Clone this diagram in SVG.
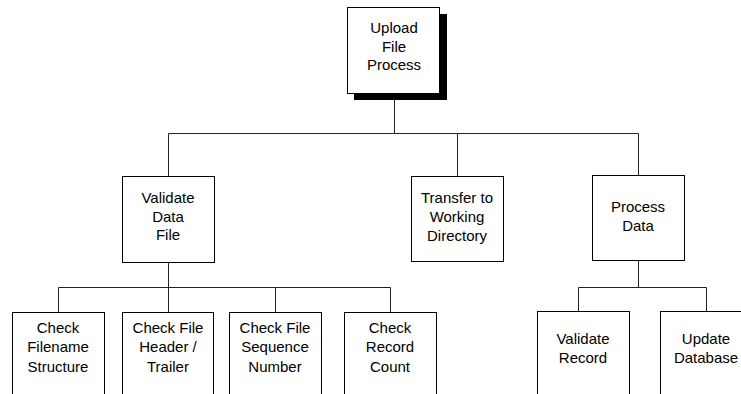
<svg xmlns="http://www.w3.org/2000/svg" width="741" height="394" viewBox="0 0 741 394">
<style>
.box{fill:#fff;stroke:#000;stroke-width:1}
.t{font-family:"Liberation Sans",Arial,sans-serif;font-size:15px;fill:#000;text-anchor:middle}
.c{fill:none;stroke:#222;stroke-width:1}
</style>
<rect width="741" height="394" fill="#fff"/>
<g id="connectors">
<path class="c" d="M394.5 100V133.5M168.5 133.5H638.5M168.5 133.5V176M457.5 133.5V176M638.5 133.5V176"/>
<path class="c" d="M168.5 262V287.5M58.5 287.5H390.5M58.5 287.5V312M168.5 287.5V312M275.5 287.5V312M390.5 287.5V312"/>
<path class="c" d="M638.5 261V287.5M578.5 287.5H706.5M578.5 287.5V311M706.5 287.5V311"/>
</g>
<g id="upload">
<rect x="354" y="14" width="93" height="86" fill="#000"/>
<rect class="box" x="347.5" y="7.5" width="92" height="86"/>
<text class="t" x="394" y="33">Upload</text>
<text class="t" x="394" y="52">File</text>
<text class="t" x="394" y="70">Process</text>
</g>
<g id="validate">
<rect class="box" x="122.5" y="176.5" width="92" height="86"/>
<text class="t" x="168" y="203">Validate</text>
<text class="t" x="168" y="222">Data</text>
<text class="t" x="168" y="240">File</text>
</g>
<g id="transfer">
<rect class="box" x="411.5" y="176.5" width="92" height="85"/>
<text class="t" x="457" y="203">Transfer to</text>
<text class="t" x="457" y="222">Working</text>
<text class="t" x="457" y="241">Directory</text>
</g>
<g id="process">
<rect class="box" x="592.5" y="175.5" width="92" height="85"/>
<text class="t" x="638" y="212">Process</text>
<text class="t" x="638" y="231">Data</text>
</g>
<g id="filename">
<rect class="box" x="12.5" y="312.5" width="92" height="100"/>
<text class="t" x="58" y="333">Check</text>
<text class="t" x="58" y="352">Filename</text>
<text class="t" x="58" y="372">Structure</text>
</g>
<g id="header">
<rect class="box" x="122.5" y="312.5" width="91" height="100"/>
<text class="t" x="168" y="333">Check File</text>
<text class="t" x="168" y="352">Header /</text>
<text class="t" x="168" y="372">Trailer</text>
</g>
<g id="sequence">
<rect class="box" x="229.5" y="312.5" width="92" height="100"/>
<text class="t" x="275" y="333">Check File</text>
<text class="t" x="275" y="352">Sequence</text>
<text class="t" x="275" y="372">Number</text>
</g>
<g id="count">
<rect class="box" x="344.5" y="312.5" width="92" height="100"/>
<text class="t" x="390" y="333">Check</text>
<text class="t" x="390" y="352">Record</text>
<text class="t" x="390" y="372">Count</text>
</g>
<g id="validaterecord">
<rect class="box" x="537.5" y="311.5" width="92" height="100"/>
<text class="t" x="583" y="344">Validate</text>
<text class="t" x="583" y="363">Record</text>
</g>
<g id="updatedb">
<rect class="box" x="660.5" y="311.5" width="92" height="100"/>
<text class="t" x="706" y="344">Update</text>
<text class="t" x="706" y="363">Database</text>
</g>
</svg>
